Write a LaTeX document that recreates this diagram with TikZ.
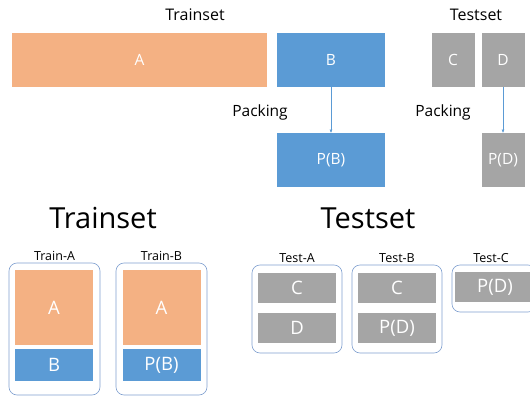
\documentclass[tikz,border=0pt]{standalone}
\usepackage{fontspec}
\setmainfont{Open Sans}
\usetikzlibrary{arrows.meta}
\definecolor{peach}{HTML}{F4B183}
\definecolor{steel}{HTML}{5B9BD5}
\definecolor{ash}{HTML}{A5A5A5}
\definecolor{rim}{HTML}{7F9FCF}
\tikzset{
  part/.style={inner sep=0pt, outer sep=0pt, text=white},
  trainpart/.style={part, fill=peach},
  packpart/.style={part, fill=steel},
  testpart/.style={part, fill=ash},
  group/.style={draw=rim, line width=0.6pt, rounded corners=8pt, inner sep=0pt},
  pack/.style={draw=steel, line width=0.5pt, -{Latex[length=3.5pt, width=3pt]}}
}
\begin{document}
\begin{tikzpicture}[x=1pt, y=-1pt]
  \useasboundingbox (0,0) rectangle (530,396);

  \begin{scope}[font=\fontsize{16}{18}\selectfont]
    \node (trainset) at (195,15) {Trainset};
    \node (testset) at (476,15) {Testset};
  \end{scope}

  \begin{scope}[font=\fontsize{15.5}{18}\selectfont, minimum height=54pt]
    \node[trainpart, minimum width=255pt] (a) at (139.5,60) {A};
    \node[packpart, minimum width=108pt] (b) at (331,60) {B};
    \node[testpart, minimum width=43pt] (c) at (453,60) {C};
    \node[testpart, minimum width=43pt] (d) at (503,60) {D};
    \node[packpart, minimum width=108pt] (pb) at (331,160) {P(B)};
    \node[testpart, minimum width=43pt] (pd) at (503,160) {P(D)};
    \node (packb) at (260,112) {Packing};
    \node (packd) at (443,112) {Packing};
  \end{scope}
  \draw[pack] (b) -- (pb);
  \draw[pack] (d) -- (pd);

  \begin{scope}[font=\fontsize{29}{32}\selectfont]
    \node (trainbig) at (103,218) {Trainset};
    \node (testbig) at (368,218) {Testset};
  \end{scope}

  \begin{scope}[font=\fontsize{12.5}{14}\selectfont]
    \node[group, minimum width=91pt, minimum height=132pt,
      label={[yshift=-1pt]above:Train-A}] (traina) at (54.5,329) {};
    \node[group, minimum width=91pt, minimum height=132pt,
      label={[yshift=-1pt]above:Train-B}] (trainb) at (161.5,329) {};
    \node[group, minimum width=90pt, minimum height=88pt,
      label={[yshift=-1pt]above:Test-A}] (testa) at (297,309) {};
    \node[group, minimum width=90pt, minimum height=88pt,
      label={[yshift=-1pt]above:Test-B}] (testb) at (397,309) {};
    \node[group, minimum width=84pt, minimum height=47pt,
      label={[xshift=-3pt, yshift=-1pt]above:Test-C}] (testc) at (494,288.5) {};
  \end{scope}

  \begin{scope}[font=\fontsize{18.5}{20}\selectfont, minimum width=78pt]
    \node[trainpart, minimum height=75pt] (ta) at (54,307.5) {A};
    \node[packpart, minimum height=32pt] (tb) at (54,365) {B};
    \node[trainpart, minimum height=75pt] (tba) at (161.5,307.5) {A};
    \node[packpart, minimum height=32pt] (tpb) at (161.5,365) {P(B)};
    \node[testpart, minimum height=30pt] (sc) at (297,288) {C};
    \node[testpart, minimum height=30pt] (sd) at (297,328) {D};
    \node[testpart, minimum height=30pt] (sbc) at (397,288) {C};
    \node[testpart, minimum height=30pt] (sbpd) at (397,328) {P(D)};
    \node[testpart, minimum height=30pt, minimum width=80pt] (scpd) at (495,287) {P(D)};
  \end{scope}
\end{tikzpicture}
\end{document}
